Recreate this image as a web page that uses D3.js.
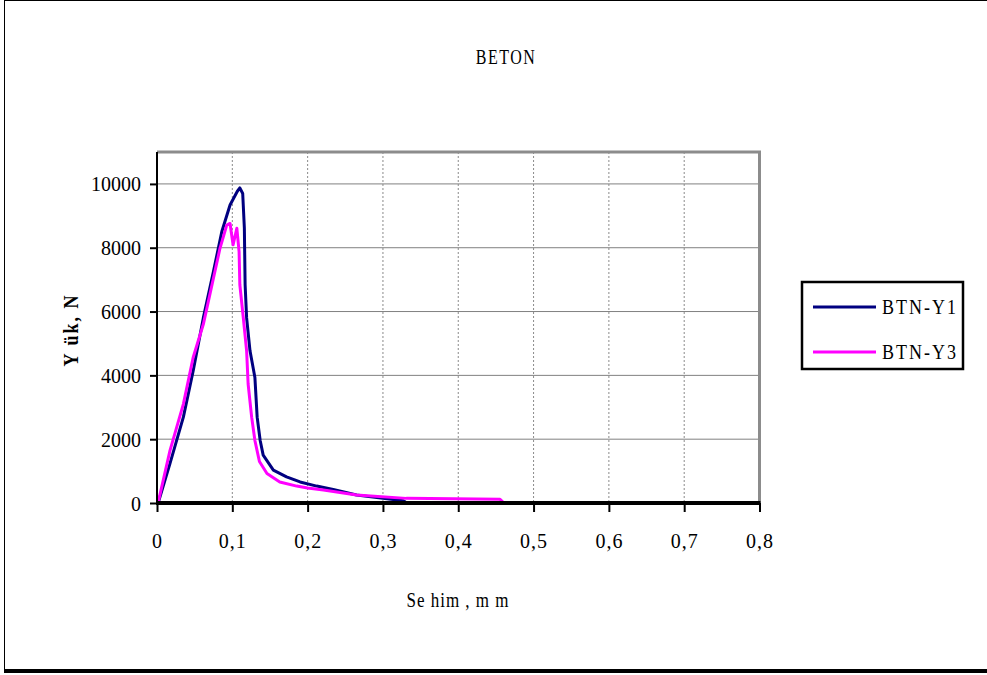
<!DOCTYPE html>
<html>
<head>
<meta charset="utf-8">
<script src="https://cdn.jsdelivr.net/npm/d3@7"></script>
<style>
  body { margin: 0; background: #fff; }
  text { font-family: "Liberation Serif", "Times New Roman", serif; fill: #000; }
</style>
</head>
<body>
<div id="chart-area"></div>
<script>
// deflection (mm) and load (N)
var y1X = [0, 0.002, 0.0173, 0.035, 0.048, 0.0615, 0.075, 0.086, 0.097, 0.1067, 0.110, 0.1138, 0.116, 0.117, 0.119, 0.1235, 0.130, 0.133, 0.137, 0.141, 0.1545, 0.172, 0.19, 0.212, 0.234, 0.265, 0.300, 0.327, 0.33];
var y1Y = [0, 40, 1240, 2690, 4140, 5800, 7260, 8500, 9340, 9770, 9875, 9700, 8610, 6840, 5800, 4770, 3930, 2690, 1960, 1500, 1030, 820, 660, 530, 425, 250, 145, 72, 30];

var y3X = [0, 0.002, 0.0173, 0.035, 0.048, 0.0615, 0.075, 0.0837, 0.0926, 0.097, 0.101, 0.106, 0.109, 0.110, 0.1146, 0.119, 0.121, 0.1257, 0.130, 0.136, 0.146, 0.163, 0.1855, 0.2, 0.221, 0.265, 0.331, 0.4555, 0.46, 0.6];
var y3Y = [0, 60, 1650, 3100, 4560, 5600, 7050, 7990, 8710, 8760, 8090, 8610, 7880, 6840, 5800, 4770, 3730, 2690, 1960, 1300, 925, 660, 530, 470, 405, 250, 145, 115, 15, 10];

var seriesNames = ["BTN-Y1", "BTN-Y3"];
var seriesColors = ["#000080", "#ff00ff"];
var xTicks = [0, 0.1, 0.2, 0.3, 0.4, 0.5, 0.6, 0.7, 0.8];
var yTicks = [0, 2000, 4000, 6000, 8000, 10000];

var W = 987, H = 675;
var margin = { top: 152, left: 157 };
var width = 759.5 - 157;
var height = 503 - 152;

var svg = d3.select("#chart-area").append("svg")
    .attr("width", W)
    .attr("height", H);

// chart area frame with shadow at the bottom
svg.append("rect")
    .attr("x", 4.5).attr("y", 0.5)
    .attr("width", W + 10).attr("height", 669)
    .attr("fill", "#fff").attr("stroke", "#000");
svg.append("rect")
    .attr("x", 4).attr("y", 669)
    .attr("width", W).attr("height", 4)
    .attr("fill", "#000");

var x = d3.scaleLinear().domain([0, 0.8]).range([0, width]);
var y = d3.scaleLinear().domain([0, 11000]).range([height, 0]);

var g = svg.append("g")
    .attr("transform", "translate(" + margin.left + "," + margin.top + ")");

// vertical grid (dashed)
g.selectAll(".vgrid").data(xTicks.slice(1, -1)).enter().append("line")
    .attr("class", "vgrid")
    .attr("x1", d => x(d)).attr("x2", d => x(d))
    .attr("y1", 0).attr("y2", height)
    .attr("stroke", "#8a8a8a").attr("stroke-width", 1)
    .attr("stroke-dasharray", "2,2");

// horizontal grid
g.selectAll(".hgrid").data(yTicks.slice(1)).enter().append("line")
    .attr("class", "hgrid")
    .attr("x1", 0).attr("x2", width)
    .attr("y1", d => y(d)).attr("y2", d => y(d))
    .attr("stroke", "#808080").attr("stroke-width", 1);

// plot area top and right border
g.append("path")
    .attr("d", "M0,0H" + width + "V" + height)
    .attr("fill", "none")
    .attr("stroke", "#8c8c8c")
    .attr("stroke-width", 3);

var line = d3.line()
    .x(d => x(d[0]))
    .y(d => y(d[1]));

var series = [d3.zip(y1X, y1Y), d3.zip(y3X, y3Y)];

g.selectAll(".series").data(series).enter().append("path")
    .attr("class", "series")
    .attr("d", line)
    .attr("fill", "none")
    .attr("stroke", (d, i) => seriesColors[i])
    .attr("stroke-width", 3)
    .attr("stroke-linejoin", "round");

// axes
var yAxis = d3.axisLeft(y).tickValues(yTicks).tickSize(7).tickPadding(9).tickFormat(d3.format("d"));
var xAxis = d3.axisBottom(x).tickValues(xTicks).tickSize(9).tickPadding(22)
    .tickFormat(d => d === 0 ? "0" : String(d).replace(".", ","));

var yAxisGroup = g.append("g").call(yAxis);
var xAxisGroup = g.append("g").attr("transform", "translate(0," + height + ")").call(xAxis);

yAxisGroup.select(".domain").attr("stroke", "#000").attr("stroke-width", 2).attr("d", "M0,0V" + height);
xAxisGroup.select(".domain").attr("stroke", "#000").attr("stroke-width", 4).attr("d", "M-1,0H" + (width + 1));
yAxisGroup.selectAll(".tick line").attr("stroke", "#000").attr("stroke-width", 2);
xAxisGroup.selectAll(".tick line").attr("stroke", "#000").attr("stroke-width", 2);
yAxisGroup.selectAll(".tick text")
    .attr("font-size", 20).attr("dy", "0.35em");
xAxisGroup.selectAll(".tick text")
    .attr("font-size", 20).attr("letter-spacing", 1);

// text drawn a bit taller than wide, like the original
function tallText(px, py, size, str, sy) {
    return svg.append("text")
        .attr("transform", "translate(" + px + "," + py + ") scale(1," + sy + ")")
        .attr("text-anchor", "middle")
        .attr("font-size", size)
        .text(str);
}

tallText(506, 64, 16, "BETON", 1.3).attr("letter-spacing", 1.5);
tallText(458, 607, 17, "Se him , m m", 1.2).attr("letter-spacing", 1);

svg.append("text")
    .attr("transform", "translate(78,330) rotate(-90) scale(1,1.15)")
    .attr("text-anchor", "middle")
    .attr("font-size", 18)
    .attr("font-weight", "bold")
    .attr("letter-spacing", 2)
    .text("Y ük, N");

// legend
var legend = svg.append("g").attr("transform", "translate(802,282)");
legend.append("rect")
    .attr("width", 161).attr("height", 87)
    .attr("fill", "#fff").attr("stroke", "#000").attr("stroke-width", 2.5);

var items = legend.selectAll(".item").data(seriesNames).enter().append("g")
    .attr("class", "item")
    .attr("transform", (d, i) => "translate(0," + (25 + i * 45) + ")");
items.append("line")
    .attr("x1", 11).attr("x2", 74)
    .attr("stroke", (d, i) => seriesColors[i])
    .attr("stroke-width", 3);
items.append("text")
    .attr("transform", "translate(80,7) scale(1,1.2)")
    .attr("font-size", 18)
    .attr("letter-spacing", 2)
    .text(d => d);
</script>
</body>
</html>
